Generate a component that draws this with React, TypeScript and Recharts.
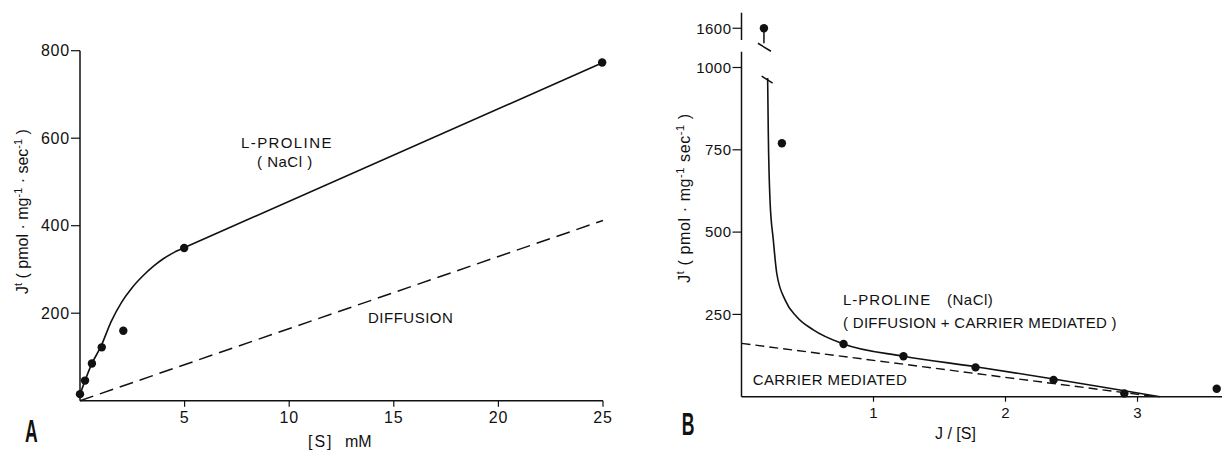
import { ComposedChart, Line, Scatter, XAxis, YAxis } from "recharts";

const FONT = "'Liberation Sans', Arial, Helvetica, sans-serif";
const INK = "#111";

// Panel A: L-proline uptake vs [S]
const leftPoints = [
  { x: 0, y: 15 },
  { x: 0.24, y: 46 },
  { x: 0.57, y: 85 },
  { x: 1.04, y: 122 },
  { x: 2.07, y: 160 },
  { x: 4.98, y: 349 },
  { x: 24.96, y: 773 },
];
const leftCurve = [
  { x: 0, y: 14 },
  { x: 0.25, y: 47 },
  { x: 0.55, y: 83 },
  { x: 1, y: 124 },
  { x: 1.5, y: 182 },
  { x: 2, y: 226 },
  { x: 2.5, y: 259 },
  { x: 3, y: 285 },
  { x: 3.5, y: 307 },
  { x: 4, y: 325 },
  { x: 4.5, y: 339 },
  { x: 5, y: 350 },
];
const leftStraight = [
  { x: 5, y: 350 },
  { x: 25, y: 773 },
];
const leftDiffusion = [
  { x: 0, y: 0 },
  { x: 25, y: 412 },
];
const leftXTicks = [5, 10, 15, 20, 25];
const leftYTicks = [200, 400, 600, 800];

// Panel B: J vs J/[S]
const rightPoints = [
  { x: 0.306, y: 770 },
  { x: 0.773, y: 160 },
  { x: 1.227, y: 123 },
  { x: 1.773, y: 89 },
  { x: 2.364, y: 51 },
  { x: 2.9, y: 10 },
  { x: 3.6, y: 24 },
];
const rightOffScale = [{ x: 0.17, y: 1600 }];
const rightCurve = [
  { x: 0.198, y: 968 },
  { x: 0.203, y: 800 },
  { x: 0.216, y: 597 },
  { x: 0.241, y: 476 },
  { x: 0.267, y: 375 },
  { x: 0.33, y: 294 },
  { x: 0.418, y: 243 },
  { x: 0.544, y: 203 },
  { x: 0.773, y: 160 },
  { x: 1.227, y: 123 },
  { x: 1.773, y: 91 },
  { x: 2.364, y: 54 },
  { x: 2.9, y: 18 },
  { x: 3.17, y: 0 },
];
const rightCarrier = [
  { x: 0, y: 162 },
  { x: 3.1, y: 2 },
];
const rightXTicks = [1, 2, 3];
const rightYTicks = [250, 500, 750, 1000];
const rightUpperTicks = [1600];

const Dot = (props: any) => (
  <circle cx={props.cx} cy={props.cy} r={4.2} fill={INK} />
);

// data point that lies off the lower scale: drawn with a stem and a break mark
const OffScaleDot = (props: any) => {
  const { cx, cy } = props;
  return (
    <g stroke={INK} strokeWidth={1.5}>
      <circle cx={cx} cy={cy} r={4.2} fill={INK} stroke="none" />
      <line x1={cx} y1={cy} x2={cx} y2={cy + 15} />
      <line x1={cx - 6} y1={cy + 15} x2={cx + 7} y2={cy + 23} />
    </g>
  );
};

// break mark at the top end of the curve
const CurveTopHatch = (props: any) => {
  const { cx, cy, index } = props;
  if (index !== 0) return <g key={`h${index}`} />;
  return (
    <line
      key="hatch"
      x1={cx - 6}
      y1={cy - 2}
      x2={cx + 5}
      y2={cy + 5}
      stroke={INK}
      strokeWidth={1.5}
    />
  );
};

const axisLine = { stroke: INK, strokeWidth: 1.5 };
const tickLine = { stroke: INK, strokeWidth: 1.2 };

export default function App() {
  return (
    <div
      style={{
        position: "absolute",
        left: 0,
        top: 0,
        width: 1224,
        height: 450,
        background: "#fff",
        fontFamily: FONT,
        overflow: "hidden",
      }}
    >
      {/* Panel A */}
      <div style={{ position: "absolute", left: 0, top: 0 }}>
        <ComposedChart
          width={640}
          height={450}
          margin={{ top: 50.7, right: 37, bottom: 19.3, left: 0 }}
        >
          <XAxis
            type="number"
            dataKey="x"
            domain={[0, 25]}
            ticks={leftXTicks}
            height={30}
            tickSize={6}
            tickMargin={5}
            axisLine={axisLine}
            tickLine={tickLine}
            tick={{ fill: INK, fontSize: 16, letterSpacing: 0.8 }}
          />
          <YAxis
            type="number"
            dataKey="y"
            domain={[0, 800]}
            ticks={leftYTicks}
            width={80}
            tickSize={9}
            tickMargin={1}
            axisLine={axisLine}
            tickLine={tickLine}
            tick={{ fill: INK, fontSize: 16, letterSpacing: 0.8 }}
          />
          <Line
            data={leftDiffusion}
            dataKey="y"
            type="linear"
            stroke={INK}
            strokeWidth={1.5}
            strokeDasharray="14 7"
            dot={false}
            activeDot={false}
            isAnimationActive={false}
          />
          <Line
            data={leftCurve}
            dataKey="y"
            type="monotone"
            stroke={INK}
            strokeWidth={1.6}
            dot={false}
            activeDot={false}
            isAnimationActive={false}
          />
          <Line
            data={leftStraight}
            dataKey="y"
            type="linear"
            stroke={INK}
            strokeWidth={1.6}
            dot={false}
            activeDot={false}
            isAnimationActive={false}
          />
          <Scatter
            data={leftPoints}
            dataKey="y"
            shape={Dot}
            isAnimationActive={false}
          />
        </ComposedChart>
      </div>

      {/* Panel B, upper (broken) scale */}
      <div style={{ position: "absolute", left: 640, top: 0 }}>
        <ComposedChart
          width={584}
          height={60}
          margin={{ top: 12.7, right: 2, bottom: 20, left: 0 }}
        >
          <XAxis type="number" dataKey="x" domain={[0, 3.64]} hide />
          <YAxis
            type="number"
            dataKey="y"
            domain={[1557, 1657]}
            ticks={rightUpperTicks}
            width={101.5}
            tickSize={9}
            tickMargin={1}
            axisLine={axisLine}
            tickLine={tickLine}
            tick={{ fill: INK, fontSize: 15, letterSpacing: 0.5 }}
          />
          <Scatter
            data={rightOffScale}
            dataKey="y"
            shape={OffScaleDot}
            isAnimationActive={false}
          />
        </ComposedChart>
      </div>

      {/* Panel B, main scale */}
      <div style={{ position: "absolute", left: 640, top: 0 }}>
        <ComposedChart
          width={584}
          height={450}
          margin={{ top: 51.7, right: 2, bottom: 23.3, left: 0 }}
        >
          <XAxis
            type="number"
            dataKey="x"
            domain={[0, 3.64]}
            ticks={rightXTicks}
            height={30}
            tickSize={5}
            tickMargin={6}
            axisLine={axisLine}
            tickLine={tickLine}
            tick={{ fill: INK, fontSize: 15 }}
          />
          <YAxis
            type="number"
            dataKey="y"
            domain={[0, 1048]}
            ticks={rightYTicks}
            width={101.5}
            tickSize={9}
            tickMargin={1}
            axisLine={axisLine}
            tickLine={tickLine}
            tick={{ fill: INK, fontSize: 15, letterSpacing: 0.5 }}
          />
          <Line
            data={rightCarrier}
            dataKey="y"
            type="linear"
            stroke={INK}
            strokeWidth={1.4}
            strokeDasharray="9 5"
            dot={false}
            activeDot={false}
            isAnimationActive={false}
          />
          <Line
            data={rightCurve}
            dataKey="y"
            type="monotone"
            stroke={INK}
            strokeWidth={1.6}
            dot={CurveTopHatch}
            activeDot={false}
            isAnimationActive={false}
          />
          <Scatter
            data={rightPoints}
            dataKey="y"
            shape={Dot}
            isAnimationActive={false}
          />
        </ComposedChart>
      </div>

      {/* titles and annotations */}
      <svg
        width={1224}
        height={450}
        style={{ position: "absolute", left: 0, top: 0, pointerEvents: "none" }}
        fontFamily={FONT}
        fill={INK}
      >
        <text x={241} y={148} fontSize={15} letterSpacing={1.4}>
          L-PROLINE
        </text>
        <text x={257} y={167} fontSize={15} letterSpacing={0.5}>
          ( NaCl )
        </text>
        <text x={368} y={323.3} fontSize={15} letterSpacing={0.5}>
          DIFFUSION
        </text>

        <text transform="translate(28,211.5) rotate(-90)" textAnchor="middle" fontSize={16}>
          J<tspan dy={-6} fontSize={11}>t</tspan>
          <tspan dy={6}> ( pmol · mg</tspan>
          <tspan dy={-6} fontSize={11}>-1</tspan>
          <tspan dy={6}> · sec</tspan>
          <tspan dy={-6} fontSize={11}>-1</tspan>
          <tspan dy={6}> )</tspan>
        </text>
        <text x={308} y={447} fontSize={16} letterSpacing={2}>
          [S]
        </text>
        <text x={345} y={447} fontSize={16}>
          mM
        </text>
        <text
          transform="translate(25,441.7) scale(0.55,1)"
          fontSize={32}
          fontWeight="bold"
        >
          A
        </text>

        <text x={843} y={305} fontSize={15} letterSpacing={1}>
          L-PROLINE
        </text>
        <text x={947} y={305} fontSize={15} letterSpacing={0.5}>
          (NaCl)
        </text>
        <text x={843} y={328.3} fontSize={15} letterSpacing={0.3}>
          ( DIFFUSION + CARRIER MEDIATED )
        </text>
        <text x={752.7} y={385} fontSize={15} letterSpacing={0.4}>
          CARRIER MEDIATED
        </text>

        <text transform="translate(690,198) rotate(-90)" textAnchor="middle" fontSize={16} letterSpacing={0.6}>
          J<tspan dy={-6} fontSize={11}>t</tspan>
          <tspan dy={6}>  ( pmol · mg</tspan>
          <tspan dy={-6} fontSize={11}>-1</tspan>
          <tspan dy={6}>  sec</tspan>
          <tspan dy={-6} fontSize={11}>-1</tspan>
          <tspan dy={6}> )</tspan>
        </text>
        <text x={935} y={439} fontSize={16}>
          J / [S]
        </text>
        <text
          transform="translate(681.7,435) scale(0.55,1)"
          fontSize={32}
          fontWeight="bold"
        >
          B
        </text>
      </svg>
    </div>
  );
}
